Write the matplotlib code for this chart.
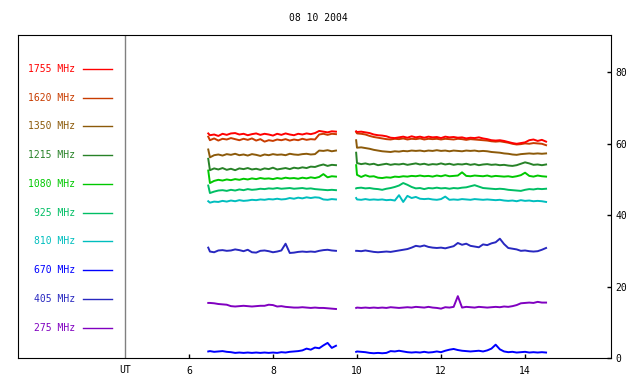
import matplotlib
matplotlib.use("Agg")
import matplotlib.pyplot as plt
import matplotlib.transforms as mtransforms

plt.rcParams['font.family'] = ['DejaVu Sans Mono']
plt.rcParams['font.size'] = 7

title = "08 10 2004"

# 관측 시간 (UT) : 두 구간
t1 = [6.46] + [round(6.5 + 0.1 * i, 2) for i in range(31)]
t2 = [9.98] + [round(10.0 + 0.1 * i, 2) for i in range(46)]

freqs = ["1755", "1620", "1350", "1215", "1080", "925", "810", "670", "405", "275"]
colors = ["#ff0000", "#c83c00", "#8c5a0a", "#288228", "#00c800",
          "#00be64", "#00bebe", "#0000ff", "#2828c0", "#8000c0"]

# 구간 1 값
seg1 = {
    "1755": [62.9, 62.4, 62.6, 62.2, 62.8, 62.5, 62.9, 63.0, 62.6, 62.8, 62.4, 62.7, 62.9, 62.5, 62.8, 62.6,
             62.3, 62.8, 62.5, 62.9, 62.6, 62.4, 62.8, 62.6, 62.9, 62.7, 63.0, 63.6, 63.4, 63.2, 63.5, 63.4],
    "1620": [62.0, 61.0, 61.5, 60.9, 61.4, 61.2, 61.6, 61.3, 61.0, 61.4, 61.1, 61.5, 60.9, 61.3, 60.6, 61.0,
             60.8, 61.2, 61.0, 61.3, 60.9, 61.2, 61.0, 61.4, 61.1, 61.3, 61.2, 62.6, 62.8, 62.5, 62.8, 62.7],
    "1350": [58.4, 56.2, 56.8, 57.0, 56.7, 57.1, 56.9, 57.2, 56.8, 57.0, 56.7, 57.1, 56.9, 56.6, 57.0, 56.8,
             57.1, 56.9, 57.0, 56.8, 57.2, 57.0, 56.9, 57.1, 57.2, 57.0, 57.1, 58.1, 58.0, 58.2, 57.9, 58.1],
    "1215": [55.8, 52.6, 53.1, 52.8, 53.2, 52.7, 53.0, 52.6, 53.1, 52.9, 53.2, 52.8, 53.0, 52.7, 53.1, 52.9,
             53.3, 52.8, 53.0, 53.2, 52.9, 53.3, 53.1, 53.4, 53.2, 53.6, 53.5, 53.9, 54.2, 53.8, 54.1, 54.0],
    "1080": [52.5, 49.0, 49.6, 49.9, 49.7, 50.0, 49.8, 50.1, 49.9, 50.2, 50.0, 50.3, 50.1, 50.4, 50.2, 50.3,
             50.1, 50.4, 50.2, 50.5, 50.3, 50.4, 50.2, 50.5, 50.3, 50.6, 50.4, 50.7, 51.5, 50.6, 50.9, 50.8],
    "925": [48.3, 46.2, 46.6, 46.9, 47.0, 46.8, 47.1, 46.9, 47.2, 47.0, 47.3, 47.1, 47.2, 47.4, 47.3, 47.5,
            47.4, 47.6, 47.4, 47.5, 47.6, 47.4, 47.5, 47.6, 47.4, 47.5, 47.3, 47.2, 47.1, 47.0, 47.1, 47.0],
    "810": [43.9, 43.5, 43.8, 43.7, 44.0, 43.8, 44.1, 43.9, 44.2, 44.0, 44.1, 44.3, 44.2, 44.4, 44.3, 44.5,
            44.4, 44.6, 44.4, 44.5, 44.8, 44.6, 44.9, 44.7, 45.0, 44.8, 45.0, 44.9, 44.4, 44.3, 44.5, 44.4],
    "670": [1.8, 1.9, 1.7, 1.8, 1.9, 1.7, 1.6, 1.4, 1.5, 1.4, 1.5, 1.4, 1.5, 1.4, 1.5, 1.4,
            1.5, 1.4, 1.6, 1.5, 1.7, 1.8, 1.9, 2.1, 2.6, 2.3, 2.9, 2.7, 3.5, 4.2, 2.8, 3.4],
    "405": [30.9, 29.8, 29.6, 30.1, 30.2, 30.0, 30.1, 30.4, 30.2, 29.9, 30.3, 29.6, 29.5, 30.0, 30.1, 29.9,
            29.6, 29.8, 30.1, 32.0, 29.4, 29.5, 29.7, 29.8, 29.7, 29.8, 29.7, 30.0, 30.2, 30.3, 30.1, 30.0],
    "275": [15.4, 15.4, 15.3, 15.1, 15.0, 14.9, 14.5, 14.4, 14.5, 14.6, 14.5, 14.4, 14.5, 14.6, 14.6, 14.9,
            14.8, 14.4, 14.5, 14.3, 14.2, 14.1, 14.1, 14.2, 14.1, 14.0, 14.1, 14.0, 14.0, 13.9, 13.8, 13.7],
}

# 구간 2 값
seg2 = {
    "1755": [63.5, 63.3, 63.4, 63.2, 63.0, 62.6, 62.4, 62.3, 62.1, 61.7, 61.6, 61.8, 62.0, 61.7, 62.1, 61.8,
             62.0, 61.7, 62.0, 61.8, 61.9, 61.6, 62.0, 61.8, 61.9, 61.7, 61.8, 61.5, 61.7, 61.6, 61.8, 61.5,
             61.3, 61.0, 60.9, 61.0, 60.8, 60.5, 60.2, 60.0, 60.2, 60.4, 61.0, 61.2, 60.8, 61.1, 60.6],
    "1620": [63.3, 62.9, 62.8, 62.6, 62.2, 61.9, 61.7, 61.5, 61.3, 61.2, 61.4, 61.3, 61.5, 61.2, 61.4, 61.3,
             61.5, 61.2, 61.4, 61.3, 61.4, 61.2, 61.4, 61.3, 61.2, 61.4, 61.3, 61.1, 61.3, 61.2, 61.1, 61.0,
             60.9, 60.7, 60.6, 60.7, 60.5, 60.3, 60.0, 59.8, 59.9, 60.1, 60.0, 60.2, 60.1, 60.0, 59.6],
    "1350": [61.0, 58.9, 59.0, 58.8, 58.6, 58.3, 58.1, 57.9, 57.8, 57.7, 57.9, 57.8, 58.0, 57.9, 58.1, 58.0,
             58.1, 57.9, 58.1, 58.0, 58.2, 58.0, 58.1, 57.9, 58.1, 58.0, 57.9, 58.1, 58.0, 58.1, 57.9, 58.0,
             57.9, 57.7, 57.6, 57.5, 57.3, 57.2, 57.0, 56.9, 57.1, 57.2, 57.3, 57.2, 57.3, 57.2, 57.3],
    "1215": [57.5, 54.6, 54.3, 54.5, 54.2, 54.4, 54.0, 54.2, 54.4, 54.1, 54.3, 54.2, 54.4, 54.1, 54.3, 54.5,
             54.2, 54.4, 54.1, 54.3, 54.2, 54.5, 54.2, 54.4, 54.1, 54.3, 54.2, 54.4, 54.1, 54.3, 54.0, 54.2,
             54.3, 54.1, 54.2, 54.0, 54.1, 53.9, 53.8, 54.0, 54.4, 54.8, 54.5, 54.1, 54.2, 54.0, 54.2],
    "1080": [54.0, 51.3, 50.7, 51.2, 50.8, 50.9, 50.5, 50.4, 50.6, 50.5, 50.8, 50.7, 50.9, 50.8, 51.0, 50.9,
             51.1, 50.9, 51.0, 50.8, 51.1, 50.9, 51.2, 50.9, 51.0, 51.1, 52.0, 51.0, 50.9, 51.1, 51.0, 50.9,
             51.1, 50.8, 51.0, 50.9, 50.8, 50.9, 50.7, 50.9, 51.2, 51.9, 51.0, 50.8, 51.1, 50.9, 50.8],
    "925": [47.5, 47.6, 47.7, 47.5, 47.6, 47.4, 47.3, 47.1, 47.4, 47.6, 47.9, 48.3, 49.0, 48.5, 47.9, 47.5,
            47.6, 47.3, 47.6, 47.5, 47.7, 47.5, 47.6, 47.4, 47.6, 47.5, 47.7, 47.8, 48.1, 48.4, 48.0, 47.6,
            47.5, 47.4, 47.3, 47.4, 47.3, 47.1, 47.0, 46.9, 46.8, 47.1, 47.3, 47.2, 47.4, 47.3, 47.4],
    "810": [44.8, 44.4, 44.3, 44.5, 44.3, 44.4, 44.3, 44.4, 44.2, 44.3, 44.1, 45.6, 43.7, 45.4, 44.8, 45.1,
            44.6, 44.5, 44.6, 44.4, 44.3, 44.5, 45.2, 44.3, 44.4, 44.3, 44.5, 44.4, 44.3, 44.5, 44.4, 44.3,
            44.4, 44.3, 44.2, 44.3, 44.1, 44.0, 44.1, 43.9, 44.2, 44.0, 44.1, 43.9, 44.0, 43.9, 43.7],
    "670": [1.7, 1.8, 1.7, 1.6, 1.4, 1.3, 1.4, 1.3, 1.4, 1.9, 1.8, 2.0, 1.8, 1.6, 1.5, 1.6,
            1.5, 1.7, 1.5, 1.6, 1.8, 1.6, 2.0, 2.3, 2.5, 2.2, 2.0, 1.9, 1.8, 1.9, 2.0, 1.8,
            2.1, 2.6, 3.7, 2.4, 1.8, 1.6, 1.7, 1.5, 1.6, 1.7, 1.5, 1.6, 1.5, 1.6, 1.5],
    "405": [30.0, 30.0, 29.9, 30.1, 29.9, 29.7, 29.6, 29.7, 29.8, 29.7, 29.9, 30.1, 30.3, 30.5, 30.9, 31.4,
            31.2, 31.5, 31.1, 30.9, 30.8, 30.9, 30.7, 31.0, 31.3, 32.2, 31.7, 32.0, 31.4, 31.2, 31.0, 31.8,
            31.6, 32.1, 32.4, 33.4, 31.9, 30.8, 30.6, 30.4, 30.0, 30.1, 29.9, 29.8, 29.9, 30.3, 30.8],
    "275": [14.0, 14.1, 14.0, 14.1, 14.0, 14.1, 14.0, 14.1, 14.0, 14.2, 14.1, 14.0, 14.1, 14.2, 14.1, 14.3,
            14.2, 14.1, 14.3, 14.1, 14.0, 13.8, 14.2, 14.1, 14.3, 17.3, 14.1, 14.3, 14.2, 14.1, 14.3, 14.2,
            14.1, 14.2, 14.3, 14.2, 14.4, 14.3, 14.5, 14.8, 15.3, 15.4, 15.5, 15.4, 15.7, 15.5, 15.5],
}

fig = plt.figure(figsize=(6.4, 3.84), dpi=100)
ax = fig.add_axes([0.028, 0.068, 0.927, 0.841])

# 낮은 주파수부터 그려서 1755 MHz 가 위에 오도록
for f, c in list(zip(freqs, colors))[::-1]:
    ax.plot(t1, seg1[f], color=c, lw=1.4)
    ax.plot(t2, seg2[f], color=c, lw=1.4)

# 왼쪽 범례 (라벨 + 선)
for i, (f, c) in enumerate(zip(freqs, colors)):
    y = 81.0 - 8.06 * i
    ax.text(3.29, y, f + " MHz", color=c, ha='right', va='center', fontsize=7)
    ax.plot([3.48, 4.17], [y, y], color=c, lw=1)

ax.axvline(4.48, color='#808080', lw=1)

ax.set_xlim(1.93, 16.05)
ax.set_ylim(0, 90.5)
ax.set_xticks([6, 8, 10, 12, 14])
ax.set_yticks([0, 20, 40, 60, 80])
ax.yaxis.tick_right()
ax.tick_params(axis='both', direction='in', length=3, width=1, labelsize=7)
ax.tick_params(axis='x', pad=6)
ax.tick_params(axis='y', pad=3)

trans = mtransforms.blended_transform_factory(ax.transData, ax.transAxes)
ax.text(4.48, -0.037, "UT", transform=trans, ha='center', va='center', fontsize=7)

fig.text(0.497, 0.953, title, ha='center', va='center', fontsize=7)

fig.savefig("out.png", dpi=100)
